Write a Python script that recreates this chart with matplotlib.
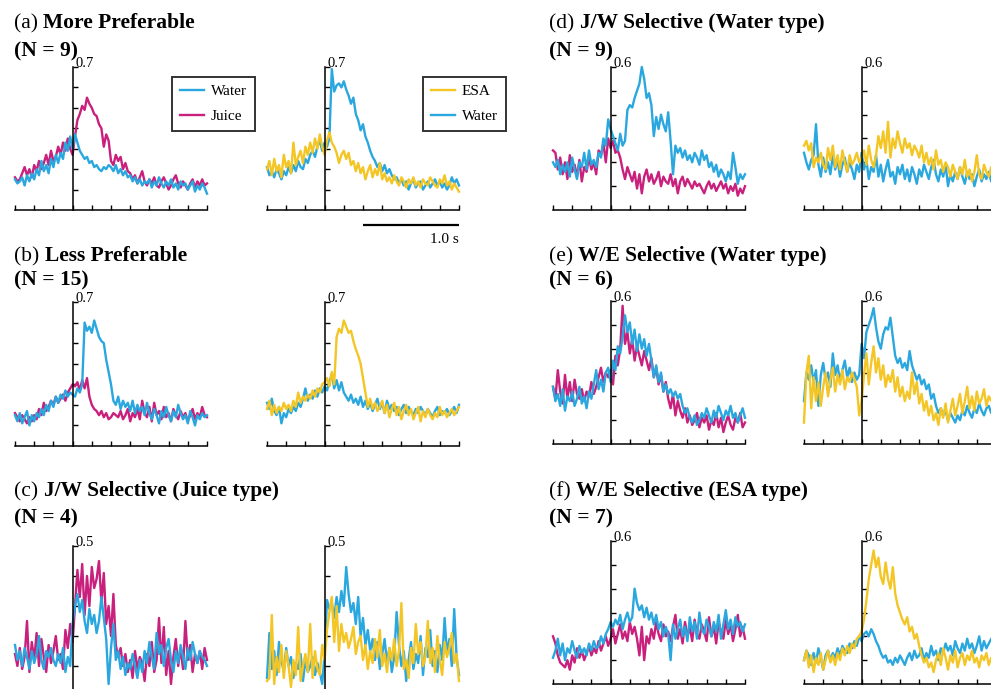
import numpy as np
import matplotlib.pyplot as plt

plt.rcParams['font.family'] = ['Liberation Serif', 'DejaVu Serif']

W, H = 991, 689
BLUE = '#2aa7de'
MAGENTA = '#c8207c'
YELLOW = '#f3c626'

# mean responses, one bin every 25 ms from -0.6 s to 1.4 s

# (a) More Preferable
a_juice = [0.16, 0.14, 0.15, 0.18, 0.21, 0.17, 0.20, 0.16, 0.22, 0.19, 0.24, 0.20,
           0.23, 0.27, 0.22, 0.29, 0.24, 0.26, 0.31, 0.27, 0.33, 0.29, 0.35, 0.30,
           0.27, 0.36, 0.44, 0.47, 0.51, 0.49, 0.55, 0.52,
           0.50, 0.47, 0.46, 0.42, 0.40, 0.31, 0.37, 0.34, 0.24, 0.22, 0.27, 0.24,
           0.26, 0.20, 0.23, 0.19,
           0.18, 0.15, 0.17, 0.13, 0.16, 0.19, 0.14, 0.12, 0.15, 0.13, 0.16, 0.12,
           0.11, 0.14, 0.16, 0.13, 0.10, 0.12, 0.15, 0.17, 0.13, 0.11, 0.14, 0.12,
           0.10, 0.13, 0.15, 0.11, 0.14, 0.12, 0.15, 0.12, 0.13]
a_water1 = [0.15, 0.13, 0.14, 0.16, 0.12, 0.17, 0.14, 0.18, 0.15, 0.20, 0.17, 0.24,
            0.19, 0.22, 0.18, 0.25, 0.21, 0.27, 0.23, 0.28, 0.25, 0.33, 0.29, 0.36,
            0.30, 0.37, 0.33, 0.29, 0.27, 0.25, 0.26, 0.23,
            0.24, 0.21, 0.22, 0.20, 0.19, 0.21, 0.20, 0.22, 0.21, 0.19, 0.22, 0.18,
            0.20, 0.17, 0.19, 0.16,
            0.17, 0.14, 0.16, 0.13, 0.15, 0.12, 0.14, 0.13, 0.15, 0.11, 0.14, 0.12,
            0.16, 0.13, 0.11, 0.14, 0.12, 0.15, 0.11, 0.13, 0.10, 0.14, 0.12, 0.13,
            0.10, 0.12, 0.14, 0.09, 0.12, 0.10, 0.13, 0.11, 0.08]
a_esa = [0.20, 0.24, 0.17, 0.25, 0.19, 0.22, 0.16, 0.27, 0.21, 0.24, 0.18, 0.33,
         0.22, 0.26, 0.29, 0.23, 0.31, 0.27, 0.33, 0.28, 0.35, 0.30, 0.37, 0.31,
         0.27, 0.34, 0.38, 0.33, 0.31, 0.28, 0.23, 0.27,
         0.29, 0.25, 0.28, 0.22, 0.24, 0.19, 0.23, 0.18, 0.21, 0.15, 0.19, 0.22,
         0.16, 0.20, 0.17, 0.23,
         0.15, 0.18, 0.14, 0.16, 0.13, 0.17, 0.14, 0.12, 0.16, 0.14, 0.11, 0.15,
         0.13, 0.16, 0.12, 0.14, 0.11, 0.15, 0.13, 0.12, 0.16, 0.14, 0.12, 0.11,
         0.15, 0.13, 0.17, 0.12, 0.14, 0.10, 0.13, 0.11, 0.09]
a_water2 = [0.21, 0.17, 0.19, 0.16, 0.20, 0.18, 0.15, 0.19, 0.17, 0.21, 0.18, 0.22,
            0.19, 0.24, 0.21, 0.20, 0.25, 0.23, 0.27, 0.29, 0.26, 0.31, 0.34, 0.29,
            0.33, 0.31, 0.35, 0.69, 0.58, 0.61, 0.62, 0.60,
            0.63, 0.59, 0.56, 0.52, 0.55, 0.47, 0.44, 0.39, 0.42, 0.36, 0.33, 0.29,
            0.26, 0.24, 0.21, 0.23,
            0.19, 0.22, 0.18, 0.20, 0.17, 0.15, 0.16, 0.13, 0.15, 0.12, 0.14, 0.10,
            0.13, 0.15, 0.11, 0.13, 0.14, 0.10, 0.12, 0.14, 0.11, 0.13, 0.15, 0.12,
            0.14, 0.11, 0.13, 0.10, 0.12, 0.16, 0.13, 0.15, 0.12]

# (b) Less Preferable
b_juice = [0.16, 0.14, 0.12, 0.15, 0.13, 0.11, 0.14, 0.12, 0.15, 0.13, 0.18, 0.15,
           0.21, 0.17, 0.19, 0.22, 0.20, 0.24, 0.21, 0.23, 0.25, 0.22, 0.26, 0.28,
           0.30, 0.29, 0.31, 0.27, 0.32, 0.28, 0.33, 0.24,
           0.20, 0.18, 0.17, 0.15, 0.17, 0.14, 0.16, 0.13, 0.14, 0.16, 0.15, 0.14,
           0.17, 0.13, 0.15, 0.18,
           0.12, 0.16, 0.14, 0.18, 0.13, 0.22, 0.16, 0.14, 0.19, 0.12, 0.21, 0.15,
           0.17, 0.13, 0.19, 0.14, 0.16, 0.12, 0.18, 0.15, 0.13, 0.17, 0.14, 0.16,
           0.12, 0.15, 0.18, 0.13, 0.16, 0.14, 0.19, 0.15, 0.14]
b_water1 = [0.15, 0.12, 0.16, 0.11, 0.14, 0.17, 0.10, 0.15, 0.12, 0.16, 0.14, 0.18,
            0.15, 0.20, 0.17, 0.22, 0.19, 0.24, 0.21, 0.25, 0.23, 0.27, 0.24, 0.26,
            0.25, 0.24, 0.28, 0.26, 0.30, 0.60, 0.56, 0.58,
            0.55, 0.61, 0.57, 0.53, 0.51, 0.50, 0.42, 0.36, 0.30, 0.22, 0.20, 0.24,
            0.18, 0.22, 0.19, 0.21,
            0.17, 0.22, 0.16, 0.20, 0.17, 0.19, 0.15, 0.21, 0.16, 0.13, 0.18, 0.15,
            0.11, 0.17, 0.14, 0.19, 0.15, 0.12, 0.17, 0.14, 0.20, 0.16, 0.13, 0.15,
            0.11, 0.17, 0.14, 0.10, 0.15, 0.13, 0.16, 0.14, 0.15]
b_esa = [0.18, 0.22, 0.15, 0.20, 0.16, 0.19, 0.17, 0.21, 0.18, 0.20, 0.17, 0.22,
         0.19, 0.26, 0.21, 0.24, 0.22, 0.25, 0.23, 0.27, 0.24, 0.28, 0.26, 0.30,
         0.31, 0.33, 0.29, 0.36, 0.30, 0.53, 0.57, 0.55,
         0.61, 0.58, 0.55, 0.56, 0.51, 0.47, 0.44, 0.40, 0.33, 0.26, 0.19, 0.23,
         0.18, 0.21, 0.17, 0.19,
         0.22, 0.16, 0.20, 0.14, 0.18, 0.21, 0.15, 0.19, 0.13, 0.17, 0.20, 0.15,
         0.18, 0.13, 0.16, 0.19, 0.12, 0.17, 0.14, 0.18, 0.15, 0.13, 0.16, 0.14,
         0.19, 0.15, 0.17, 0.14, 0.16, 0.18, 0.15, 0.17, 0.19]
b_water2 = [0.21, 0.18, 0.23, 0.17, 0.15, 0.19, 0.11, 0.16, 0.14, 0.18, 0.16, 0.19,
            0.17, 0.21, 0.19, 0.23, 0.28, 0.22, 0.25, 0.23, 0.27, 0.24, 0.28, 0.26,
            0.29, 0.27, 0.31, 0.35, 0.28, 0.32, 0.27, 0.31,
            0.26, 0.24, 0.22, 0.25, 0.21, 0.23, 0.20, 0.24, 0.19, 0.22, 0.18, 0.21,
            0.17, 0.20, 0.23, 0.18,
            0.21, 0.16, 0.22, 0.18, 0.20, 0.17, 0.19, 0.15, 0.18, 0.20, 0.16, 0.19,
            0.17, 0.15, 0.18, 0.16, 0.19, 0.17, 0.15, 0.18, 0.16, 0.14, 0.17, 0.19,
            0.15, 0.17, 0.16, 0.18, 0.15, 0.17, 0.19, 0.16, 0.20]

# (c) J/W Selective (Juice type)
c_juice = [0.14, 0.10, 0.16, 0.09, 0.13, 0.25, 0.08, 0.18, 0.12, 0.21, 0.10, 0.19,
           0.13, 0.08, 0.17, 0.11, 0.15, 0.20, 0.12, 0.14, 0.09, 0.22, 0.16, 0.24,
           0.18, 0.30, 0.42, 0.33, 0.44, 0.27, 0.40, 0.30,
           0.43, 0.36, 0.39, 0.45, 0.31, 0.41, 0.24, 0.30, 0.20, 0.34, 0.17, 0.13,
           0.16, 0.10, 0.14, 0.08,
           0.12, 0.06, 0.15, 0.09, 0.13, 0.11, 0.05, 0.14, 0.10, 0.18, 0.08, 0.12,
           0.26, 0.11, 0.23, 0.07, 0.15, 0.04, 0.13, 0.19, 0.10, 0.16, 0.09, 0.25,
           0.12, 0.17, 0.08, 0.14, 0.11, 0.15, 0.09, 0.16, 0.12]
c_water1 = [0.17, 0.12, 0.15, 0.10, 0.16, 0.13, 0.09, 0.15, 0.11, 0.14, 0.20, 0.12,
            0.09, 0.15, 0.13, 0.16, 0.12, 0.10, 0.14, 0.11, 0.16, 0.08, 0.13, 0.10,
            0.24, 0.30, 0.34, 0.28, 0.32, 0.25, 0.21, 0.29,
            0.24, 0.27, 0.21, 0.25, 0.33, 0.26, 0.19, 0.04, 0.16, 0.24, 0.12, 0.15,
            0.09, 0.13, 0.07, 0.11,
            0.09, 0.14, 0.10, 0.06, 0.12, 0.08, 0.15, 0.11, 0.18, 0.13, 0.09, 0.21,
            0.14, 0.17, 0.10, 0.16, 0.19, 0.12, 0.08, 0.15, 0.11, 0.17, 0.13, 0.09,
            0.16, 0.12, 0.18, 0.14, 0.11, 0.15, 0.13, 0.12, 0.10]
c_esa = [0.05, 0.06, 0.27, 0.04, 0.13, 0.08, 0.17, 0.06, 0.15, 0.10, 0.03, 0.12,
         0.07, 0.23, 0.05, 0.10, 0.14, 0.08, 0.24, 0.06, 0.15, 0.09, 0.07, 0.17,
         0.12, 0.22, 0.28, 0.33, 0.18, 0.30, 0.15, 0.24,
         0.18, 0.21, 0.16, 0.19, 0.23, 0.14, 0.18, 0.20, 0.12, 0.17, 0.09, 0.15,
         0.11, 0.19, 0.13, 0.22,
         0.10, 0.14, 0.08, 0.16, 0.12, 0.19, 0.10, 0.15, 0.31, 0.09, 0.12, 0.06,
         0.16, 0.11, 0.24, 0.14, 0.18, 0.10, 0.13, 0.25, 0.11, 0.16, 0.08, 0.20,
         0.12, 0.07, 0.18, 0.13, 0.16, 0.21, 0.11, 0.14, 0.05]
c_water2 = [0.06, 0.21, 0.09, 0.15, 0.07, 0.18, 0.12, 0.08, 0.16, 0.10, 0.13, 0.06,
            0.11, 0.09, 0.14, 0.05, 0.12, 0.08, 0.10, 0.13, 0.07, 0.11, 0.08, 0.04,
            0.14, 0.32, 0.29, 0.31, 0.26, 0.33, 0.28, 0.35,
            0.30, 0.43, 0.34, 0.28, 0.31, 0.24, 0.33, 0.20, 0.26, 0.17, 0.22, 0.15,
            0.19, 0.12, 0.18, 0.09,
            0.14, 0.19, 0.11, 0.16, 0.08, 0.13, 0.28, 0.17, 0.10, 0.15, 0.05, 0.12,
            0.18, 0.09, 0.14, 0.11, 0.20, 0.07, 0.16, 0.13, 0.22, 0.10, 0.15, 0.08,
            0.17, 0.12, 0.26, 0.14, 0.19, 0.10, 0.29, 0.13, 0.07]

# (d) J/W Selective (Water type)
d_juice = [0.25, 0.24, 0.17, 0.22, 0.15, 0.20, 0.13, 0.23, 0.16, 0.19, 0.14, 0.21,
           0.12, 0.18, 0.16, 0.22, 0.17, 0.20, 0.15, 0.25, 0.23, 0.28, 0.20, 0.30,
           0.26, 0.29, 0.24, 0.25, 0.22, 0.17, 0.13, 0.18,
           0.15, 0.12, 0.16, 0.09, 0.15, 0.07, 0.14, 0.17, 0.12, 0.15, 0.11, 0.13,
           0.16, 0.10, 0.14, 0.12,
           0.11, 0.15, 0.10, 0.13, 0.07, 0.12, 0.14, 0.10, 0.13, 0.11, 0.09, 0.12,
           0.10, 0.11, 0.09, 0.07, 0.10, 0.12, 0.09, 0.11, 0.08, 0.10, 0.12, 0.09,
           0.11, 0.07, 0.10, 0.08, 0.11, 0.06, 0.09, 0.07, 0.10]
d_water1 = [0.20, 0.18, 0.21, 0.15, 0.19, 0.16, 0.20, 0.14, 0.22, 0.17, 0.13, 0.20,
            0.18, 0.24, 0.17, 0.25, 0.19, 0.21, 0.18, 0.24, 0.22, 0.30, 0.27, 0.38,
            0.34, 0.31, 0.28, 0.25, 0.32, 0.27, 0.29, 0.42,
            0.44, 0.43, 0.47, 0.50, 0.53, 0.60, 0.55, 0.47, 0.49, 0.44, 0.31, 0.39,
            0.34, 0.40, 0.36, 0.33,
            0.41, 0.29, 0.15, 0.27, 0.24, 0.26, 0.22, 0.25, 0.21, 0.23, 0.20, 0.24,
            0.22, 0.19, 0.25, 0.21, 0.23, 0.18, 0.20, 0.16, 0.19, 0.14, 0.17, 0.15,
            0.12, 0.16, 0.13, 0.24, 0.18, 0.11, 0.15, 0.13, 0.15]
d_esa = [0.27, 0.29, 0.25, 0.28, 0.18, 0.22, 0.20, 0.24, 0.19, 0.17, 0.26, 0.21,
         0.27, 0.18, 0.23, 0.17, 0.25, 0.20, 0.16, 0.23, 0.19, 0.21, 0.24, 0.20,
         0.22, 0.25, 0.19, 0.27, 0.21, 0.18, 0.23, 0.31,
         0.26, 0.33, 0.24, 0.37, 0.22, 0.30, 0.26, 0.33, 0.28, 0.24, 0.30, 0.26,
         0.28, 0.23, 0.27, 0.25,
         0.22, 0.27, 0.20, 0.24, 0.19, 0.22, 0.17, 0.25, 0.19, 0.21, 0.16, 0.20,
         0.18, 0.14, 0.19, 0.16, 0.13, 0.18, 0.15, 0.21, 0.14, 0.17, 0.12, 0.16,
         0.23, 0.15, 0.13, 0.19, 0.16, 0.14, 0.18, 0.15, 0.17]
d_water2 = [0.24, 0.20, 0.17, 0.21, 0.23, 0.36, 0.19, 0.14, 0.22, 0.16, 0.20, 0.15,
            0.23, 0.17, 0.21, 0.14, 0.19, 0.22, 0.16, 0.20, 0.17, 0.13, 0.19, 0.16,
            0.24, 0.17, 0.21, 0.13, 0.18, 0.16, 0.23, 0.14,
            0.19, 0.12, 0.17, 0.21, 0.14, 0.16, 0.11, 0.18, 0.15, 0.19, 0.13, 0.17,
            0.12, 0.18, 0.15, 0.11,
            0.17, 0.14, 0.19, 0.16, 0.13, 0.18, 0.21, 0.15, 0.12, 0.17, 0.14, 0.19,
            0.10, 0.15, 0.12, 0.16, 0.13, 0.18, 0.14, 0.11, 0.16, 0.13, 0.15, 0.10,
            0.14, 0.17, 0.12, 0.15, 0.13, 0.16, 0.12, 0.14, 0.13]

# (e) W/E Selective (Water type)
e_juice = [0.24, 0.19, 0.31, 0.22, 0.17, 0.29, 0.19, 0.26, 0.18, 0.27, 0.21, 0.19,
           0.23, 0.18, 0.22, 0.20, 0.26, 0.21, 0.24, 0.28, 0.32, 0.26, 0.30, 0.28,
           0.31, 0.25, 0.37, 0.33, 0.40, 0.58, 0.42, 0.47,
           0.38, 0.44, 0.35, 0.41, 0.37, 0.33, 0.39, 0.35, 0.31, 0.36, 0.28, 0.32,
           0.25, 0.29, 0.22, 0.26,
           0.19, 0.15, 0.21, 0.12, 0.18, 0.14, 0.11, 0.15, 0.09, 0.12, 0.08, 0.10,
           0.13, 0.07, 0.11, 0.09, 0.12, 0.06, 0.10, 0.08, 0.13, 0.07, 0.11, 0.05,
           0.09, 0.12, 0.08, 0.06, 0.11, 0.09, 0.13, 0.07, 0.09]
e_water1 = [0.24, 0.18, 0.21, 0.16, 0.23, 0.14, 0.20, 0.18, 0.22, 0.16, 0.19, 0.24,
            0.17, 0.20, 0.15, 0.22, 0.19, 0.25, 0.31, 0.23, 0.27, 0.22, 0.30, 0.32,
            0.26, 0.35, 0.31, 0.41, 0.38, 0.45, 0.54, 0.47,
            0.51, 0.42, 0.48, 0.39, 0.46, 0.40, 0.44, 0.37, 0.42, 0.35, 0.28, 0.33,
            0.26, 0.30, 0.22, 0.25,
            0.21, 0.23, 0.20, 0.22, 0.19, 0.21, 0.16, 0.13, 0.15, 0.11, 0.09, 0.12,
            0.08, 0.10, 0.13, 0.11, 0.15, 0.12, 0.09, 0.14, 0.11, 0.16, 0.13, 0.10,
            0.14, 0.12, 0.16, 0.11, 0.13, 0.09, 0.12, 0.15, 0.11]
e_esa = [0.09, 0.30, 0.37, 0.15, 0.28, 0.18, 0.26, 0.16, 0.24, 0.30, 0.20, 0.27,
         0.32, 0.22, 0.29, 0.25, 0.31, 0.23, 0.28, 0.26, 0.30, 0.27, 0.24, 0.12,
         0.18, 0.29, 0.38, 0.25, 0.34, 0.41, 0.30, 0.36,
         0.27, 0.33, 0.24, 0.29, 0.26, 0.31, 0.22, 0.28, 0.20, 0.24, 0.18, 0.22,
         0.19, 0.30, 0.21, 0.26,
         0.17, 0.21, 0.14, 0.18, 0.12, 0.16, 0.10, 0.13, 0.08, 0.15, 0.11, 0.17,
         0.09, 0.14, 0.19, 0.12, 0.16, 0.21, 0.13, 0.18, 0.24, 0.15, 0.20, 0.14,
         0.22, 0.17, 0.19, 0.23, 0.16, 0.20, 0.18, 0.22, 0.17]
e_water2 = [0.18, 0.30, 0.27, 0.33, 0.26, 0.31, 0.16, 0.29, 0.34, 0.27, 0.30, 0.24,
            0.38, 0.29, 0.33, 0.26, 0.31, 0.35, 0.28, 0.32, 0.26, 0.30, 0.27, 0.29,
            0.42, 0.36, 0.47, 0.50, 0.53, 0.57, 0.49, 0.43,
            0.40, 0.46, 0.49, 0.48, 0.53, 0.45, 0.37, 0.34, 0.36, 0.32, 0.34, 0.31,
            0.39, 0.33, 0.30, 0.27,
            0.29, 0.25, 0.27, 0.23, 0.25, 0.19, 0.21, 0.16, 0.13, 0.15, 0.12, 0.14,
            0.10, 0.13, 0.11, 0.09, 0.12, 0.10, 0.14, 0.12, 0.16, 0.13, 0.11, 0.15,
            0.13, 0.17, 0.14, 0.12, 0.15, 0.16, 0.13, 0.15, 0.14]

# (f) W/E Selective (ESA type)
f_juice = [0.20, 0.17, 0.12, 0.09, 0.08, 0.07, 0.10, 0.06, 0.12, 0.09, 0.15, 0.11,
           0.14, 0.10, 0.13, 0.16, 0.12, 0.15, 0.13, 0.18, 0.14, 0.17, 0.20, 0.16,
           0.19, 0.23, 0.17, 0.21, 0.25, 0.19, 0.22, 0.18,
           0.26, 0.21, 0.24, 0.19, 0.12, 0.24, 0.10, 0.20, 0.17, 0.23, 0.19, 0.26,
           0.21, 0.18, 0.25, 0.20,
           0.22, 0.18, 0.24, 0.29, 0.19, 0.23, 0.17, 0.26, 0.20, 0.24, 0.18, 0.27,
           0.21, 0.19, 0.25, 0.22, 0.18, 0.28, 0.20, 0.24, 0.17, 0.26, 0.22, 0.19,
           0.27, 0.21, 0.25, 0.18, 0.23, 0.29, 0.20, 0.24, 0.19]
f_water1 = [0.11, 0.14, 0.19, 0.12, 0.17, 0.10, 0.15, 0.13, 0.18, 0.14, 0.11, 0.16,
            0.13, 0.15, 0.12, 0.17, 0.14, 0.18, 0.15, 0.16, 0.20, 0.17, 0.21, 0.23,
            0.26, 0.24, 0.27, 0.25, 0.29, 0.23, 0.27, 0.30,
            0.26, 0.28, 0.40, 0.34, 0.31, 0.33, 0.28, 0.32, 0.27, 0.30, 0.25, 0.29,
            0.23, 0.26, 0.20, 0.24,
            0.21, 0.10, 0.25, 0.19, 0.23, 0.27, 0.20, 0.24, 0.18, 0.28, 0.22, 0.26,
            0.19, 0.30, 0.23, 0.21, 0.27, 0.24, 0.20, 0.26, 0.22, 0.29, 0.19, 0.25,
            0.31, 0.23, 0.27, 0.21, 0.28, 0.24, 0.26, 0.22, 0.25]
f_esa = [0.10, 0.14, 0.07, 0.12, 0.05, 0.11, 0.08, 0.13, 0.06, 0.10, 0.14, 0.09,
         0.12, 0.08, 0.13, 0.10, 0.15, 0.12, 0.16, 0.13, 0.17, 0.15, 0.19, 0.20,
         0.22, 0.27, 0.35, 0.44, 0.50, 0.56, 0.49, 0.53,
         0.45, 0.42, 0.51, 0.44, 0.40, 0.49, 0.38, 0.33, 0.30, 0.27, 0.25, 0.28,
         0.22, 0.24, 0.19, 0.21,
         0.16, 0.12, 0.09, 0.11, 0.07, 0.09, 0.05, 0.10, 0.13, 0.08, 0.15, 0.11,
         0.06, 0.12, 0.09, 0.14, 0.07, 0.11, 0.13, 0.08, 0.12, 0.10, 0.14, 0.09,
         0.11, 0.07, 0.12, 0.10, 0.13, 0.08, 0.11, 0.09, 0.12]
f_water2 = [0.10, 0.14, 0.12, 0.08, 0.13, 0.09, 0.15, 0.11, 0.06, 0.12, 0.14, 0.10,
            0.13, 0.11, 0.15, 0.12, 0.16, 0.14, 0.13, 0.17, 0.15, 0.18, 0.16, 0.20,
            0.18, 0.21, 0.22, 0.20, 0.23, 0.21, 0.18, 0.16,
            0.13, 0.11, 0.12, 0.09, 0.10, 0.08, 0.11, 0.09, 0.12, 0.10, 0.08, 0.11,
            0.13, 0.10, 0.14, 0.11,
            0.12, 0.15, 0.10, 0.13, 0.11, 0.16, 0.12, 0.14, 0.10, 0.15, 0.13, 0.17,
            0.14, 0.16, 0.12, 0.18, 0.15, 0.13, 0.17, 0.14, 0.19, 0.15, 0.17, 0.13,
            0.16, 0.20, 0.14, 0.18, 0.15, 0.17, 0.19, 0.16, 0.18]

panel_tags = ['(a)', '(b)', '(c)', '(d)', '(e)', '(f)']
panel_names = ['More Preferable', 'Less Preferable', 'J/W Selective (Juice type)',
               'J/W Selective (Water type)', 'W/E Selective (Water type)',
               'W/E Selective (ESA type)']
panel_n = [9, 15, 4, 9, 6, 7]
panel_ymax = [0.7, 0.7, 0.5, 0.6, 0.6, 0.6]
juice_traces = [a_juice, b_juice, c_juice, d_juice, e_juice, f_juice]
water_jw = [a_water1, b_water1, c_water1, d_water1, e_water1, f_water1]
esa_traces = [a_esa, b_esa, c_esa, d_esa, e_esa, f_esa]
water_we = [a_water2, b_water2, c_water2, d_water2, e_water2, f_water2]

T0, T1 = -0.6, 1.4

# layout in pixels: left edge of each subplot pair, top and zero line of each row
col_left = [(15, 267), (553, 804)]
row_top = [(67, 302, 546), (67, 301, 541)]
row_zero = [(210, 446, 696), (210, 444, 684)]
title_x = [14, 549]
title_base = [28, 261, 496]
count_base = [56, 285, 523]
AX_W = 192
TITLE_FS = 15.5

fig = plt.figure(figsize=(W / 100, H / 100), dpi=100)
renderer = fig.canvas.get_renderer()


def make_axes(x0, top, zero, ymax):
    ax = fig.add_axes([x0 / W, 1 - zero / H, AX_W / W, (zero - top) / H])
    ax.set_xlim(T0, T1)
    ax.set_ylim(0, ymax)
    ax.patch.set_visible(False)
    for side in ('top', 'right'):
        ax.spines[side].set_visible(False)
    ax.spines['left'].set_position(('data', 0))
    for side in ('left', 'bottom'):
        ax.spines[side].set_linewidth(1.1)
    ax.set_xticks(np.round(np.arange(-3, 8) * 0.2, 1))
    ax.set_yticks(np.round(np.arange(1, round(ymax * 10) + 1) * 0.1, 1))
    ax.tick_params(direction='in', length=3.5, width=1.0,
                   labelbottom=False, labelleft=False)
    ax.text(0.035, ymax, f'{ymax:.1f}', fontsize=10.5, ha='left',
            va='baseline')
    return ax


def trace(ax, values, color):
    t = np.linspace(T0, T1, len(values))
    return ax.plot(t, values, color=color, lw=1.7, clip_on=False)[0]


for k in range(6):
    col, row = divmod(k, 3)
    ymax = panel_ymax[k]
    top, zero = row_top[col][row], row_zero[col][row]

    # title: regular tag followed by a bold name, then the cell count
    tx, ty = title_x[col] / W, 1 - title_base[row] / H
    tag = fig.text(tx, ty, panel_tags[k] + ' ', fontsize=TITLE_FS, va='baseline')
    bb = tag.get_window_extent(renderer)
    fig.text(bb.x1 / W, ty, panel_names[k], fontsize=TITLE_FS, weight='bold',
             va='baseline')
    fig.text(tx, 1 - count_base[row] / H, f'(N = {panel_n[k]})',
             fontsize=TITLE_FS, weight='bold', va='baseline')

    ax1 = make_axes(col_left[col][0], top, zero, ymax)
    lj = trace(ax1, juice_traces[k], MAGENTA)
    lw1 = trace(ax1, water_jw[k], BLUE)

    ax2 = make_axes(col_left[col][1], top, zero, ymax)
    lw2 = trace(ax2, water_we[k], BLUE)
    le = trace(ax2, esa_traces[k], YELLOW)

    if k == 0:
        for hs, labs, x in (([lw1, lj], ['Water', 'Juice'], 172),
                            ([le, lw2], ['ESA', 'Water'], 423)):
            leg = fig.legend(hs, labs, loc='upper left',
                             bbox_to_anchor=(x / W, 1 - 77 / H),
                             fontsize=11, frameon=True, fancybox=False,
                             handlelength=1.6, handletextpad=0.45,
                             labelspacing=0.75, borderpad=0.5,
                             borderaxespad=0)
            leg.get_frame().set_edgecolor('black')
            leg.get_frame().set_linewidth(1.4)
        # 1 s scale bar under the second subplot
        ax2.plot([0.4, 1.4], [-0.074, -0.074], color='black', lw=1.6,
                 clip_on=False, solid_capstyle='butt')
        ax2.text(1.4, -0.145, '1.0 s', fontsize=11, ha='right', va='center')

fig.savefig('out.png', dpi=100)
